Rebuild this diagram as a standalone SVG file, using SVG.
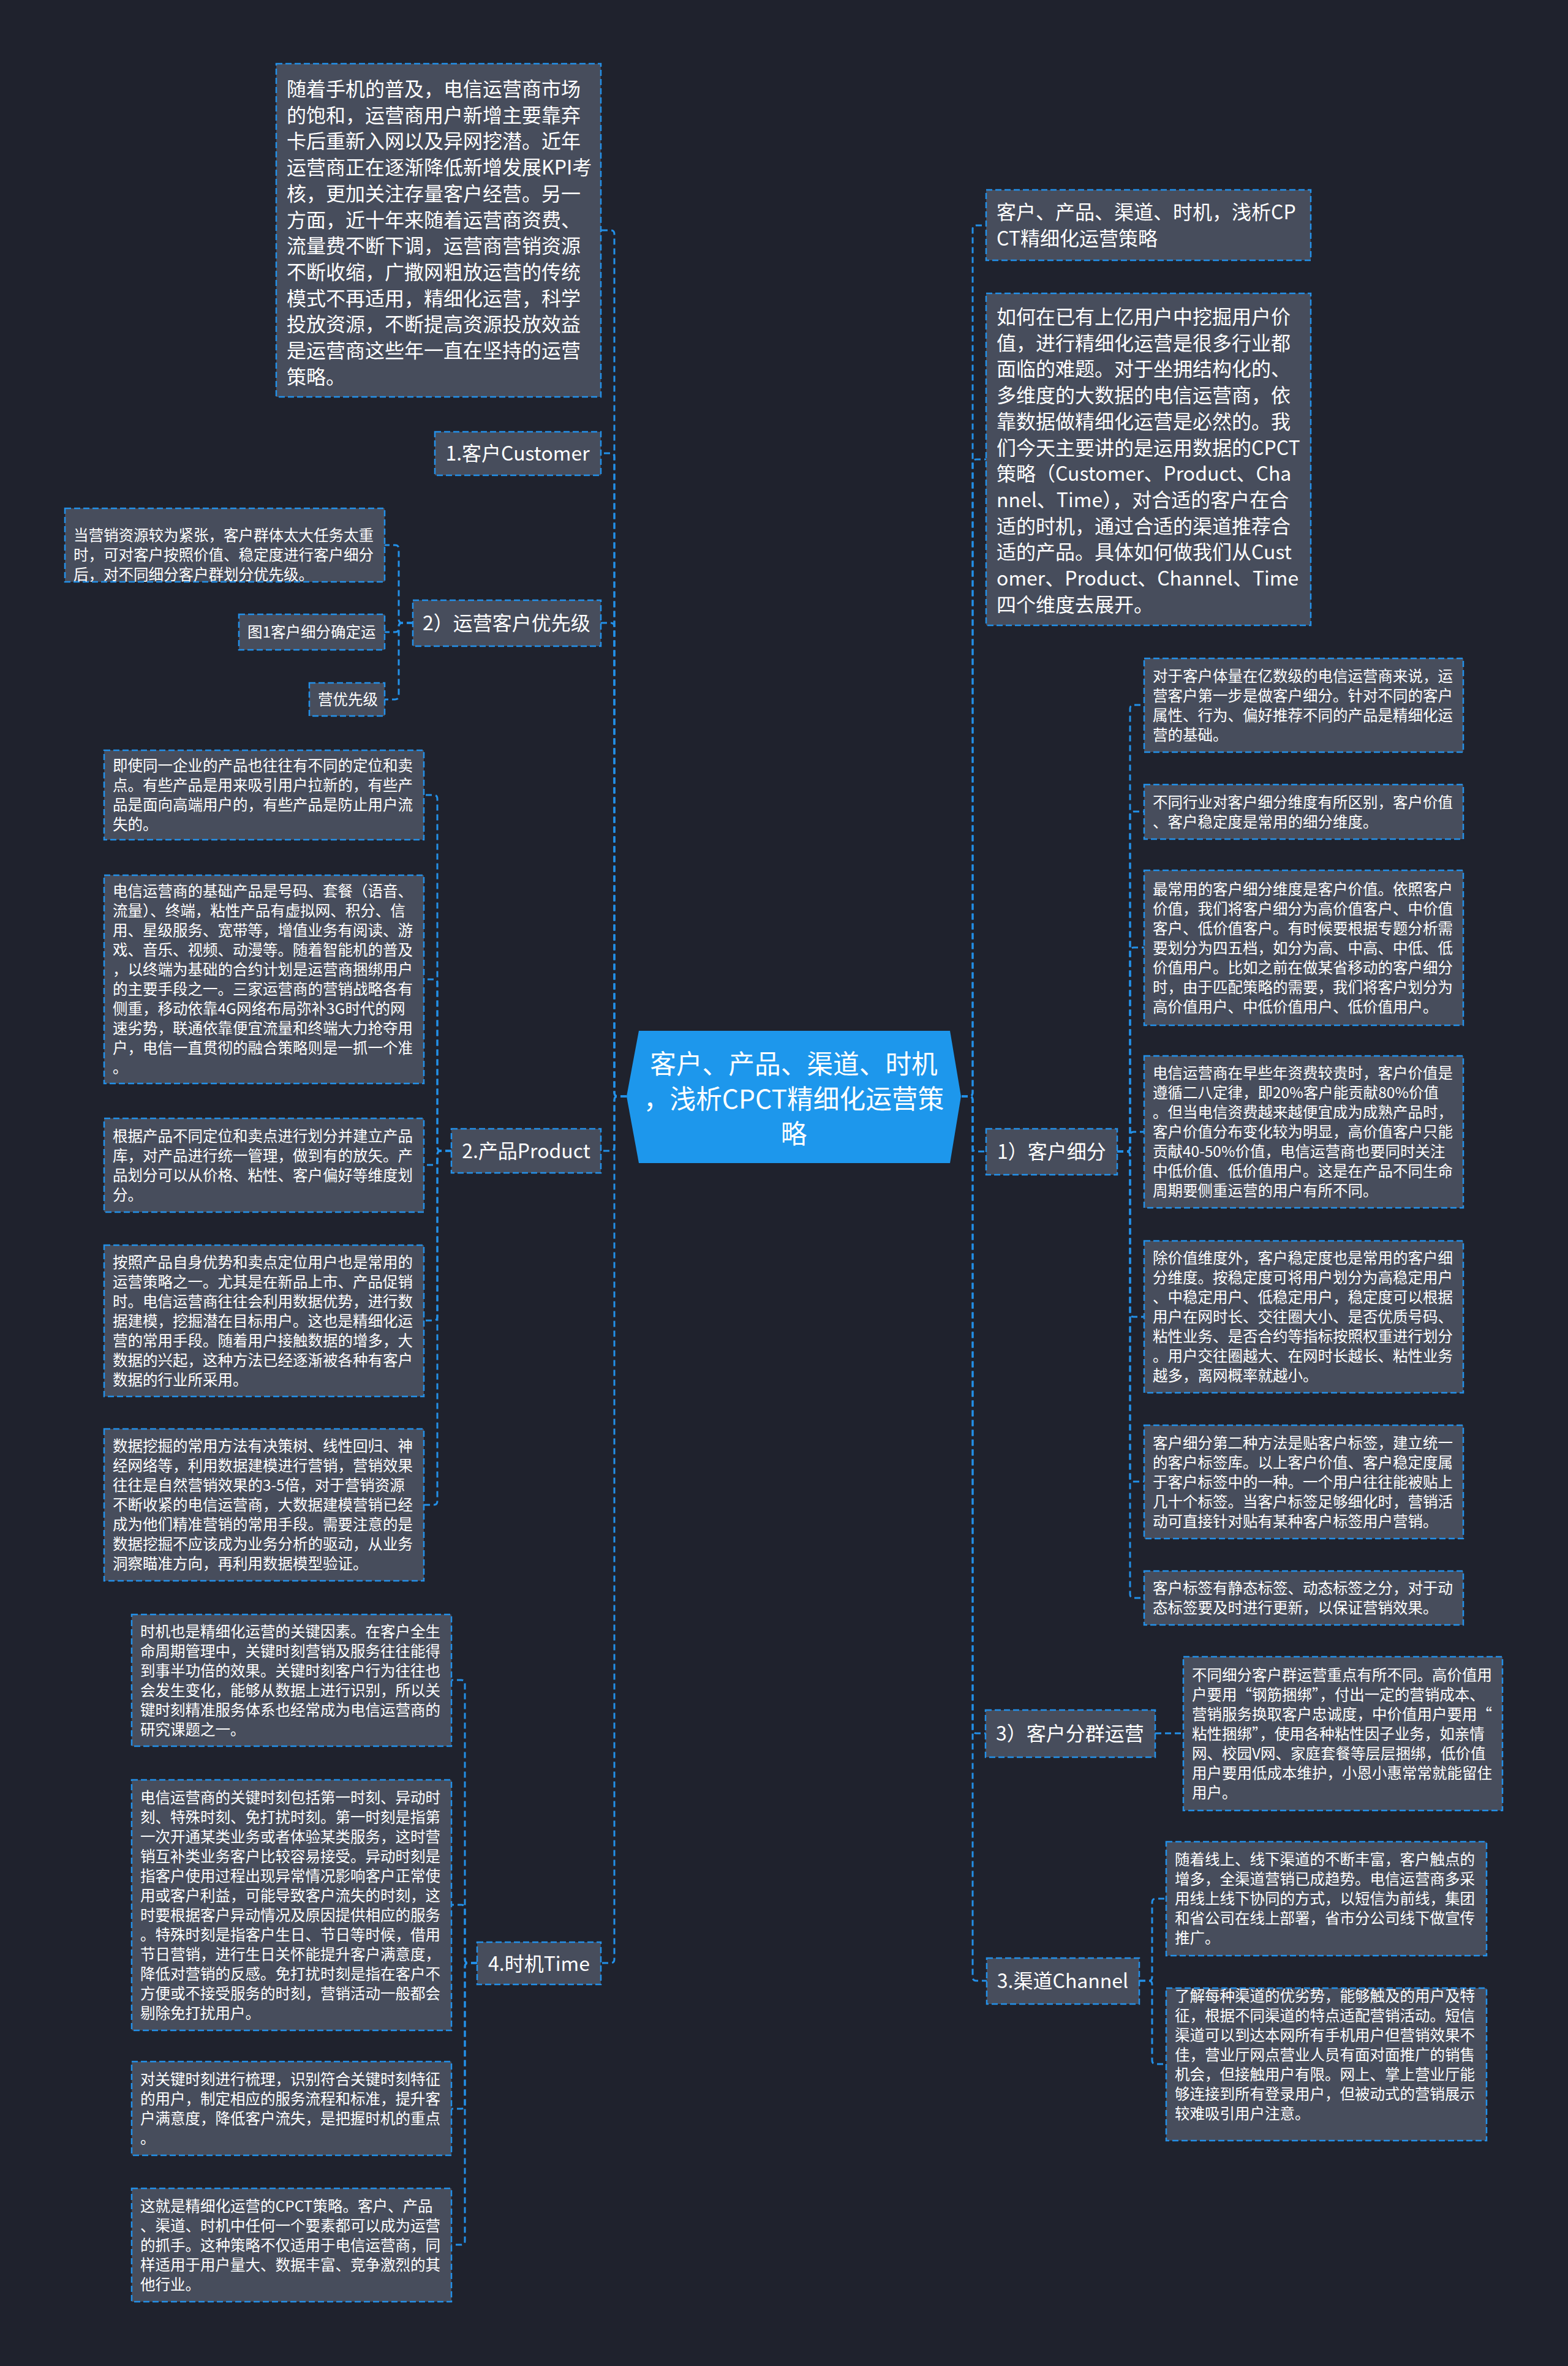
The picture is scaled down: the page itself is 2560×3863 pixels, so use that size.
<svg xmlns="http://www.w3.org/2000/svg" width="2560" height="3863" viewBox="0 0 2560 3863">
<style>
.n{fill:#474d5c;stroke:#2390e8;stroke-width:2.5;stroke-dasharray:10 5}
.ln{fill:none;stroke:#2390e8;stroke-width:3;stroke-dasharray:10 6}
text{fill:#ffffff;font-family:"Noto Sans CJK SC","Noto Sans",sans-serif}
.b{font-size:32px}
.s{font-size:24.5px}
.m{font-size:32px;text-anchor:middle}
.c{font-size:42.7px;text-anchor:middle}
</style>
<rect x="0" y="0" width="2560" height="3863" fill="#1f222d"/>
<g id="connectors">
<path class="ln" d="M1023 1790 H1009 Q1003 1790 1003 1784 V382 Q1003 376 997 376 H981"/>
<path class="ln" d="M1023 1790 H1009 Q1003 1790 1003 1784 V746 Q1003 740 997 740 H981"/>
<path class="ln" d="M1023 1790 H1009 Q1003 1790 1003 1784 V1023 Q1003 1017 997 1017 H981"/>
<path class="ln" d="M1023 1790 H1009 Q1003 1790 1003 1796 V1873 Q1003 1879 997 1879 H981"/>
<path class="ln" d="M1023 1790 H1009 Q1003 1790 1003 1796 V3199 Q1003 3205 997 3205 H981"/>
<path class="ln" d="M1570 1790 H1582 Q1588 1790 1588 1784 V374 Q1588 368 1594 368 H1610"/>
<path class="ln" d="M1570 1790 H1582 Q1588 1790 1588 1784 V756 Q1588 750 1594 750 H1610"/>
<path class="ln" d="M1570 1790 H1582 Q1588 1790 1588 1796 V1874 Q1588 1880 1594 1880 H1610"/>
<path class="ln" d="M1570 1790 H1582 Q1588 1790 1588 1796 V2824 Q1588 2830 1594 2830 H1609"/>
<path class="ln" d="M1570 1790 H1582 Q1588 1790 1588 1796 V3228 Q1588 3234 1594 3234 H1611"/>
<path class="ln" d="M674 1017 H657 Q651 1017 651 1011 V896 Q651 890 645 890 H628"/>
<path class="ln" d="M674 1017 H657 Q651 1017 651 1023 V1026 Q651 1032 645 1032 H628"/>
<path class="ln" d="M674 1017 H657 Q651 1017 651 1023 V1136 Q651 1142 645 1142 H628"/>
<path class="ln" d="M737 1879 H720 Q714 1879 714 1873 V1304 Q714 1298 708 1298 H692"/>
<path class="ln" d="M737 1879 H720 Q714 1879 714 1873 V1605 Q714 1599 708 1599 H692"/>
<path class="ln" d="M737 1879 H720 Q714 1879 714 1885 V1896 Q714 1902 708 1902 H692"/>
<path class="ln" d="M737 1879 H720 Q714 1879 714 1885 V2150 Q714 2156 708 2156 H692"/>
<path class="ln" d="M737 1879 H720 Q714 1879 714 1885 V2451 Q714 2457 708 2457 H692"/>
<path class="ln" d="M779 3205 H765 Q759 3205 759 3199 V2749 Q759 2743 753 2743 H737"/>
<path class="ln" d="M779 3205 H765 Q759 3205 759 3199 V3116 Q759 3110 753 3110 H737"/>
<path class="ln" d="M779 3205 H765 Q759 3205 759 3211 V3437 Q759 3443 753 3443 H737"/>
<path class="ln" d="M779 3205 H765 Q759 3205 759 3211 V3659 Q759 3665 753 3665 H737"/>
<path class="ln" d="M1824 1880 H1839 Q1845 1880 1845 1874 V1157 Q1845 1151 1851 1151 H1868"/>
<path class="ln" d="M1824 1880 H1839 Q1845 1880 1845 1874 V1331 Q1845 1325 1851 1325 H1868"/>
<path class="ln" d="M1824 1880 H1839 Q1845 1880 1845 1874 V1553 Q1845 1547 1851 1547 H1868"/>
<path class="ln" d="M1824 1880 H1839 Q1845 1880 1845 1874 V1854 Q1845 1848 1851 1848 H1868"/>
<path class="ln" d="M1824 1880 H1839 Q1845 1880 1845 1886 V2144 Q1845 2150 1851 2150 H1868"/>
<path class="ln" d="M1824 1880 H1839 Q1845 1880 1845 1886 V2413 Q1845 2419 1851 2419 H1868"/>
<path class="ln" d="M1824 1880 H1839 Q1845 1880 1845 1886 V2603 Q1845 2609 1851 2609 H1868"/>
<path class="ln" d="M1886 2830 H1932"/>
<path class="ln" d="M1860 3234 H1875 Q1881 3234 1881 3228 V3106 Q1881 3100 1887 3100 H1904"/>
<path class="ln" d="M1860 3234 H1875 Q1881 3234 1881 3240 V3364 Q1881 3370 1887 3370 H1904"/>
</g>
<g id="center">
<polygon points="1043,1683 1551,1683 1569,1790 1551,1899 1043,1899 1023,1790" fill="#1d97ec"/>
<text class="c" x="1296" y="1753">客户、产品、渠道、时机</text>
<text class="c" x="1296" y="1810">，浅析CPCT精细化运营策</text>
<text class="c" x="1296" y="1867">略</text>
</g>
<g id="l-intro">
<rect class="n" x="451" y="104" width="530" height="544"/>
<text class="b" x="468" y="157"><tspan x="468">随着手机的普及，电信运营商市场</tspan><tspan x="468" dy="42.7">的饱和，运营商用户新增主要靠弃</tspan><tspan x="468" dy="42.7">卡后重新入网以及异网挖潜。近年</tspan><tspan x="468" dy="42.7">运营商正在逐渐降低新增发展KPI考</tspan><tspan x="468" dy="42.7">核，更加关注存量客户经营。另一</tspan><tspan x="468" dy="42.7">方面，近十年来随着运营商资费、</tspan><tspan x="468" dy="42.7">流量费不断下调，运营商营销资源</tspan><tspan x="468" dy="42.7">不断收缩，广撒网粗放运营的传统</tspan><tspan x="468" dy="42.7">模式不再适用，精细化运营，科学</tspan><tspan x="468" dy="42.7">投放资源，不断提高资源投放效益</tspan><tspan x="468" dy="42.7">是运营商这些年一直在坚持的运营</tspan><tspan x="468" dy="42.7">策略。</tspan></text>
</g>
<g id="b-customer">
<rect class="n" x="710" y="705" width="271" height="71"/>
<text class="m" x="845" y="752">1.客户Customer</text>
</g>
<g id="b-priority">
<rect class="n" x="674" y="980" width="307" height="75"/>
<text class="m" x="827" y="1029">2）运营客户优先级</text>
</g>
<g id="pr-a">
<rect class="n" x="106" y="830" width="522" height="120"/>
<text class="s" x="120" y="883"><tspan x="120">当营销资源较为紧张，客户群体太大任务太重</tspan><tspan x="120" dy="32">时，可对客户按照价值、稳定度进行客户细分</tspan><tspan x="120" dy="32">后，对不同细分客户群划分优先级。</tspan></text>
</g>
<g id="pr-b">
<rect class="n" x="390" y="1003" width="238" height="58"/>
<text class="s" x="404" y="1041">图1客户细分确定运</text>
</g>
<g id="pr-c">
<rect class="n" x="505" y="1115" width="123" height="54"/>
<text class="s" x="519" y="1151">营优先级</text>
</g>
<g id="b-product">
<rect class="n" x="737" y="1843" width="244" height="72"/>
<text class="m" x="859" y="1891">2.产品Product</text>
</g>
<g id="p1">
<rect class="n" x="170" y="1225" width="522" height="146"/>
<text class="s" x="184" y="1259"><tspan x="184">即使同一企业的产品也往往有不同的定位和卖</tspan><tspan x="184" dy="32">点。有些产品是用来吸引用户拉新的，有些产</tspan><tspan x="184" dy="32">品是面向高端用户的，有些产品是防止用户流</tspan><tspan x="184" dy="32">失的。</tspan></text>
</g>
<g id="p2">
<rect class="n" x="170" y="1429" width="522" height="340"/>
<text class="s" x="184" y="1464"><tspan x="184">电信运营商的基础产品是号码、套餐（语音、</tspan><tspan x="184" dy="32">流量）、终端，粘性产品有虚拟网、积分、信</tspan><tspan x="184" dy="32">用、星级服务、宽带等，增值业务有阅读、游</tspan><tspan x="184" dy="32">戏、音乐、视频、动漫等。随着智能机的普及</tspan><tspan x="184" dy="32">，以终端为基础的合约计划是运营商捆绑用户</tspan><tspan x="184" dy="32">的主要手段之一。三家运营商的营销战略各有</tspan><tspan x="184" dy="32">侧重，移动依靠4G网络布局弥补3G时代的网</tspan><tspan x="184" dy="32">速劣势，联通依靠便宜流量和终端大力抢夺用</tspan><tspan x="184" dy="32">户，电信一直贯彻的融合策略则是一抓一个准</tspan><tspan x="184" dy="32">。</tspan></text>
</g>
<g id="p3">
<rect class="n" x="170" y="1826" width="522" height="153"/>
<text class="s" x="184" y="1864"><tspan x="184">根据产品不同定位和卖点进行划分并建立产品</tspan><tspan x="184" dy="32">库，对产品进行统一管理，做到有的放矢。产</tspan><tspan x="184" dy="32">品划分可以从价格、粘性、客户偏好等维度划</tspan><tspan x="184" dy="32">分。</tspan></text>
</g>
<g id="p4">
<rect class="n" x="170" y="2033" width="522" height="247"/>
<text class="s" x="184" y="2070"><tspan x="184">按照产品自身优势和卖点定位用户也是常用的</tspan><tspan x="184" dy="32">运营策略之一。尤其是在新品上市、产品促销</tspan><tspan x="184" dy="32">时。电信运营商往往会利用数据优势，进行数</tspan><tspan x="184" dy="32">据建模，挖掘潜在目标用户。这也是精细化运</tspan><tspan x="184" dy="32">营的常用手段。随着用户接触数据的增多，大</tspan><tspan x="184" dy="32">数据的兴起，这种方法已经逐渐被各种有客户</tspan><tspan x="184" dy="32">数据的行业所采用。</tspan></text>
</g>
<g id="p5">
<rect class="n" x="170" y="2333" width="522" height="248"/>
<text class="s" x="184" y="2370"><tspan x="184">数据挖掘的常用方法有决策树、线性回归、神</tspan><tspan x="184" dy="32">经网络等，利用数据建模进行营销，营销效果</tspan><tspan x="184" dy="32">往往是自然营销效果的3-5倍，对于营销资源</tspan><tspan x="184" dy="32">不断收紧的电信运营商，大数据建模营销已经</tspan><tspan x="184" dy="32">成为他们精准营销的常用手段。需要注意的是</tspan><tspan x="184" dy="32">数据挖掘不应该成为业务分析的驱动，从业务</tspan><tspan x="184" dy="32">洞察瞄准方向，再利用数据模型验证。</tspan></text>
</g>
<g id="b-time">
<rect class="n" x="779" y="3171" width="202" height="69"/>
<text class="m" x="880" y="3218">4.时机Time</text>
</g>
<g id="t1">
<rect class="n" x="215" y="2636" width="522" height="215"/>
<text class="s" x="229" y="2673"><tspan x="229">时机也是精细化运营的关键因素。在客户全生</tspan><tspan x="229" dy="32">命周期管理中，关键时刻营销及服务往往能得</tspan><tspan x="229" dy="32">到事半功倍的效果。关键时刻客户行为往往也</tspan><tspan x="229" dy="32">会发生变化，能够从数据上进行识别，所以关</tspan><tspan x="229" dy="32">键时刻精准服务体系也经常成为电信运营商的</tspan><tspan x="229" dy="32">研究课题之一。</tspan></text>
</g>
<g id="t2">
<rect class="n" x="215" y="2906" width="522" height="409"/>
<text class="s" x="229" y="2944"><tspan x="229">电信运营商的关键时刻包括第一时刻、异动时</tspan><tspan x="229" dy="32">刻、特殊时刻、免打扰时刻。第一时刻是指第</tspan><tspan x="229" dy="32">一次开通某类业务或者体验某类服务，这时营</tspan><tspan x="229" dy="32">销互补类业务客户比较容易接受。异动时刻是</tspan><tspan x="229" dy="32">指客户使用过程出现异常情况影响客户正常使</tspan><tspan x="229" dy="32">用或客户利益，可能导致客户流失的时刻，这</tspan><tspan x="229" dy="32">时要根据客户异动情况及原因提供相应的服务</tspan><tspan x="229" dy="32">。特殊时刻是指客户生日、节日等时候，借用</tspan><tspan x="229" dy="32">节日营销，进行生日关怀能提升客户满意度，</tspan><tspan x="229" dy="32">降低对营销的反感。免打扰时刻是指在客户不</tspan><tspan x="229" dy="32">方便或不接受服务的时刻，营销活动一般都会</tspan><tspan x="229" dy="32">剔除免打扰用户。</tspan></text>
</g>
<g id="t3">
<rect class="n" x="215" y="3366" width="522" height="153"/>
<text class="s" x="229" y="3404"><tspan x="229">对关键时刻进行梳理，识别符合关键时刻特征</tspan><tspan x="229" dy="32">的用户，制定相应的服务流程和标准，提升客</tspan><tspan x="229" dy="32">户满意度，降低客户流失，是把握时机的重点</tspan><tspan x="229" dy="32">。</tspan></text>
</g>
<g id="t4">
<rect class="n" x="215" y="3573" width="522" height="185"/>
<text class="s" x="229" y="3611"><tspan x="229">这就是精细化运营的CPCT策略。客户、产品</tspan><tspan x="229" dy="32">、渠道、时机中任何一个要素都可以成为运营</tspan><tspan x="229" dy="32">的抓手。这种策略不仅适用于电信运营商，同</tspan><tspan x="229" dy="32">样适用于用户量大、数据丰富、竞争激烈的其</tspan><tspan x="229" dy="32">他行业。</tspan></text>
</g>
<g id="r-title">
<rect class="n" x="1610" y="310" width="530" height="115"/>
<text class="b" x="1627" y="358"><tspan x="1627">客户、产品、渠道、时机，浅析CP</tspan><tspan x="1627" dy="42.7">CT精细化运营策略</tspan></text>
</g>
<g id="r-intro">
<rect class="n" x="1610" y="479" width="530" height="542"/>
<text class="b" x="1627" y="529"><tspan x="1627">如何在已有上亿用户中挖掘用户价</tspan><tspan x="1627" dy="42.7">值，进行精细化运营是很多行业都</tspan><tspan x="1627" dy="42.7">面临的难题。对于坐拥结构化的、</tspan><tspan x="1627" dy="42.7">多维度的大数据的电信运营商，依</tspan><tspan x="1627" dy="42.7">靠数据做精细化运营是必然的。我</tspan><tspan x="1627" dy="42.7">们今天主要讲的是运用数据的CPCT</tspan><tspan x="1627" dy="42.7">策略（Customer、Product、Cha</tspan><tspan x="1627" dy="42.7">nnel、Time），对合适的客户在合</tspan><tspan x="1627" dy="42.7">适的时机，通过合适的渠道推荐合</tspan><tspan x="1627" dy="42.7">适的产品。具体如何做我们从Cust</tspan><tspan x="1627" dy="42.7">omer、Product、Channel、Time</tspan><tspan x="1627" dy="42.7">四个维度去展开。</tspan></text>
</g>
<g id="r-segment">
<rect class="n" x="1610" y="1843" width="214" height="75"/>
<text class="m" x="1717" y="1892">1）客户细分</text>
</g>
<g id="c1">
<rect class="n" x="1868" y="1075" width="521" height="153"/>
<text class="s" x="1882" y="1113"><tspan x="1882">对于客户体量在亿数级的电信运营商来说，运</tspan><tspan x="1882" dy="32">营客户第一步是做客户细分。针对不同的客户</tspan><tspan x="1882" dy="32">属性、行为、偏好推荐不同的产品是精细化运</tspan><tspan x="1882" dy="32">营的基础。</tspan></text>
</g>
<g id="c2">
<rect class="n" x="1868" y="1281" width="521" height="89"/>
<text class="s" x="1882" y="1319"><tspan x="1882">不同行业对客户细分维度有所区别，客户价值</tspan><tspan x="1882" dy="32">、客户稳定度是常用的细分维度。</tspan></text>
</g>
<g id="c3">
<rect class="n" x="1868" y="1421" width="521" height="253"/>
<text class="s" x="1882" y="1461"><tspan x="1882">最常用的客户细分维度是客户价值。依照客户</tspan><tspan x="1882" dy="32">价值，我们将客户细分为高价值客户、中价值</tspan><tspan x="1882" dy="32">客户、低价值客户。有时候要根据专题分析需</tspan><tspan x="1882" dy="32">要划分为四五档，如分为高、中高、中低、低</tspan><tspan x="1882" dy="32">价值用户。比如之前在做某省移动的客户细分</tspan><tspan x="1882" dy="32">时，由于匹配策略的需要，我们将客户划分为</tspan><tspan x="1882" dy="32">高价值用户、中低价值用户、低价值用户。</tspan></text>
</g>
<g id="c4">
<rect class="n" x="1868" y="1724" width="521" height="248"/>
<text class="s" x="1882" y="1761"><tspan x="1882">电信运营商在早些年资费较贵时，客户价值是</tspan><tspan x="1882" dy="32">遵循二八定律，即20%客户能贡献80%价值</tspan><tspan x="1882" dy="32">。但当电信资费越来越便宜成为成熟产品时，</tspan><tspan x="1882" dy="32">客户价值分布变化较为明显，高价值客户只能</tspan><tspan x="1882" dy="32">贡献40-50%价值，电信运营商也要同时关注</tspan><tspan x="1882" dy="32">中低价值、低价值用户。这是在产品不同生命</tspan><tspan x="1882" dy="32">周期要侧重运营的用户有所不同。</tspan></text>
</g>
<g id="c5">
<rect class="n" x="1868" y="2026" width="521" height="248"/>
<text class="s" x="1882" y="2063"><tspan x="1882">除价值维度外，客户稳定度也是常用的客户细</tspan><tspan x="1882" dy="32">分维度。按稳定度可将用户划分为高稳定用户</tspan><tspan x="1882" dy="32">、中稳定用户、低稳定用户，稳定度可以根据</tspan><tspan x="1882" dy="32">用户在网时长、交往圈大小、是否优质号码、</tspan><tspan x="1882" dy="32">粘性业务、是否合约等指标按照权重进行划分</tspan><tspan x="1882" dy="32">。用户交往圈越大、在网时长越长、粘性业务</tspan><tspan x="1882" dy="32">越多，离网概率就越小。</tspan></text>
</g>
<g id="c6">
<rect class="n" x="1868" y="2327" width="521" height="185"/>
<text class="s" x="1882" y="2365"><tspan x="1882">客户细分第二种方法是贴客户标签，建立统一</tspan><tspan x="1882" dy="32">的客户标签库。以上客户价值、客户稳定度属</tspan><tspan x="1882" dy="32">于客户标签中的一种。一个用户往往能被贴上</tspan><tspan x="1882" dy="32">几十个标签。当客户标签足够细化时，营销活</tspan><tspan x="1882" dy="32">动可直接针对贴有某种客户标签用户营销。</tspan></text>
</g>
<g id="c7">
<rect class="n" x="1868" y="2565" width="521" height="88"/>
<text class="s" x="1882" y="2602"><tspan x="1882">客户标签有静态标签、动态标签之分，对于动</tspan><tspan x="1882" dy="32">态标签要及时进行更新，以保证营销效果。</tspan></text>
</g>
<g id="r-group">
<rect class="n" x="1609" y="2792" width="277" height="77"/>
<text class="m" x="1747" y="2842">3）客户分群运营</text>
</g>
<g id="g1">
<rect class="n" x="1932" y="2705" width="521" height="251"/>
<text class="s" x="1946" y="2744"><tspan x="1946">不同细分客户群运营重点有所不同。高价值用</tspan><tspan x="1946" dy="32">户要用“钢筋捆绑”，付出一定的营销成本、</tspan><tspan x="1946" dy="32">营销服务换取客户忠诚度，中价值用户要用“</tspan><tspan x="1946" dy="32">粘性捆绑”，使用各种粘性因子业务，如亲情</tspan><tspan x="1946" dy="32">网、校园V网、家庭套餐等层层捆绑，低价值</tspan><tspan x="1946" dy="32">用户要用低成本维护，小恩小惠常常就能留住</tspan><tspan x="1946" dy="32">用户。</tspan></text>
</g>
<g id="r-channel">
<rect class="n" x="1611" y="3197" width="249" height="75"/>
<text class="m" x="1735" y="3246">3.渠道Channel</text>
</g>
<g id="ch1">
<rect class="n" x="1904" y="3007" width="523" height="186"/>
<text class="s" x="1918" y="3045"><tspan x="1918">随着线上、线下渠道的不断丰富，客户触点的</tspan><tspan x="1918" dy="32">增多，全渠道营销已成趋势。电信运营商多采</tspan><tspan x="1918" dy="32">用线上线下协同的方式，以短信为前线，集团</tspan><tspan x="1918" dy="32">和省公司在线上部署，省市分公司线下做宣传</tspan><tspan x="1918" dy="32">推广。</tspan></text>
</g>
<g id="ch2">
<rect class="n" x="1904" y="3246" width="523" height="249"/>
<text class="s" x="1918" y="3268"><tspan x="1918" dy="0">了解每种渠道的优劣势，能够触及的用户及特</tspan><tspan x="1918" dy="32">征，根据不同渠道的特点适配营销活动。短信</tspan><tspan x="1918" dy="32">渠道可以到达本网所有手机用户但营销效果不</tspan><tspan x="1918" dy="32">佳，营业厅网点营业人员有面对面推广的销售</tspan><tspan x="1918" dy="32">机会，但接触用户有限。网上、掌上营业厅能</tspan><tspan x="1918" dy="32">够连接到所有登录用户，但被动式的营销展示</tspan><tspan x="1918" dy="32">较难吸引用户注意。</tspan></text>
</g>
</svg>
